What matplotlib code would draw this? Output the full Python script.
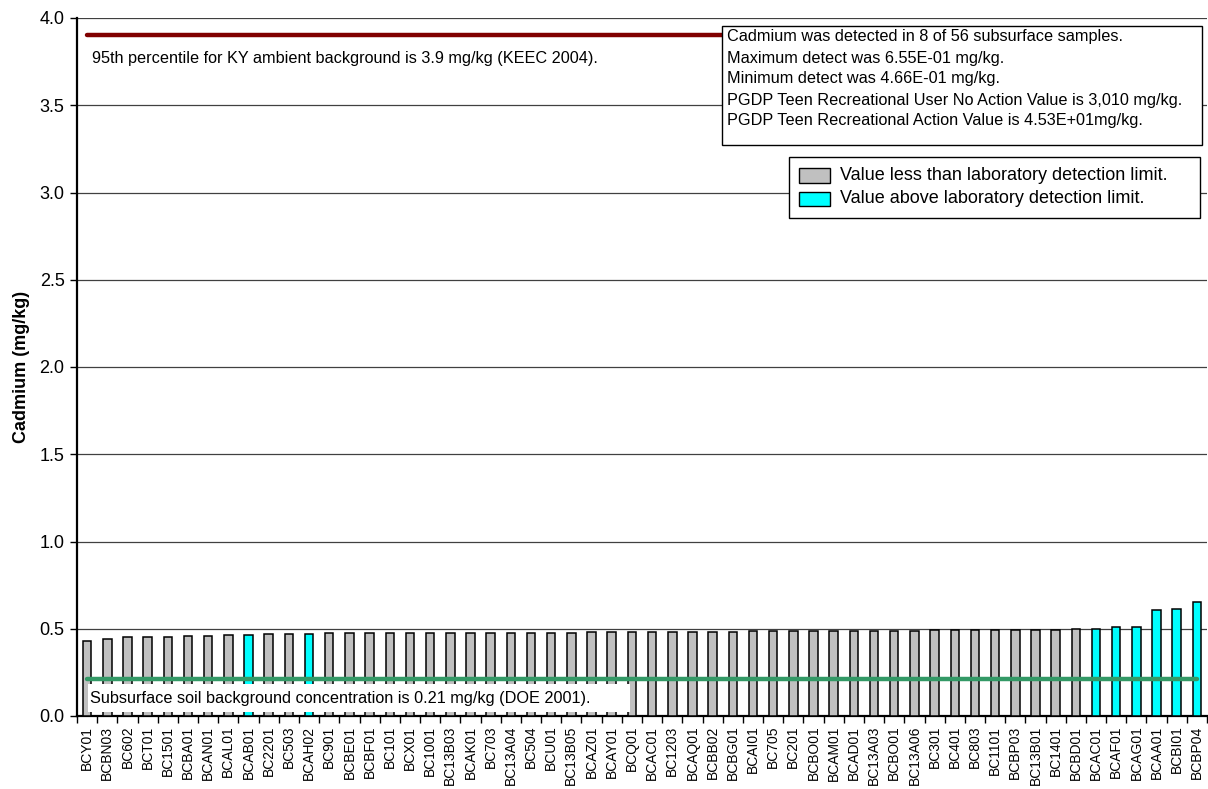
import matplotlib
matplotlib.use("Agg")
import matplotlib.pyplot as plt
from matplotlib.patches import Rectangle
import numpy as np

plt.rcParams['font.family'] = ['Liberation Sans', 'DejaVu Sans']

stations = ["BCY01", "BCBN03", "BC602", "BCT01", "BC1501", "BCBA01", "BCAN01", "BCAL01",
            "BCAB01", "BC2201", "BC503", "BCAH02", "BC901", "BCBE01", "BCBF01", "BC101",
            "BCX01", "BC1001", "BC13B03", "BCAK01", "BC703", "BC13A04", "BC504", "BCU01",
            "BC13B05", "BCAZ01", "BCAY01", "BCQ01", "BCAC01", "BC1203", "BCAQ01", "BCBB02",
            "BCBG01", "BCAI01", "BC705", "BC201", "BCBO01", "BCAM01", "BCAD01", "BC13A03",
            "BCBO01", "BC13A06", "BC301", "BC401", "BC803", "BC1101", "BCBP03", "BC13B01",
            "BC1401", "BCBD01", "BCAC01", "BCAF01", "BCAG01", "BCAA01", "BCBI01", "BCBP04"]
cadmium = [0.428, 0.441, 0.451, 0.455, 0.455, 0.459, 0.459, 0.466,
           0.466, 0.470, 0.471, 0.471, 0.473, 0.474, 0.474, 0.475,
           0.475, 0.475, 0.476, 0.476, 0.476, 0.477, 0.477, 0.478,
           0.478, 0.479, 0.480, 0.480, 0.481, 0.481, 0.482, 0.484,
           0.484, 0.485, 0.485, 0.485, 0.485, 0.486, 0.487, 0.487,
           0.488, 0.488, 0.490, 0.490, 0.492, 0.493, 0.493, 0.495,
           0.495, 0.497, 0.498, 0.510, 0.512, 0.607, 0.614, 0.655]
detected = [0, 0, 0, 0, 0, 0, 0, 0,
            1, 0, 0, 1, 0, 0, 0, 0,
            0, 0, 0, 0, 0, 0, 0, 0,
            0, 0, 0, 0, 0, 0, 0, 0,
            0, 0, 0, 0, 0, 0, 0, 0,
            0, 0, 0, 0, 0, 0, 0, 0,
            0, 0, 1, 1, 1, 1, 1, 1]
ky_background = 3.9
soil_background = 0.21
y_ticks = [0.0, 0.5, 1.0, 1.5, 2.0, 2.5, 3.0, 3.5, 4.0]

info_lines = ["Cadmium was detected in 8 of 56 subsurface samples.",
              "Maximum detect was 6.55E-01 mg/kg.",
              "Minimum detect was 4.66E-01 mg/kg.",
              "PGDP Teen Recreational User No Action Value is 3,010 mg/kg.",
              "PGDP Teen Recreational Action Value is 4.53E+01mg/kg."]
legend_labels = ["Value less than laboratory detection limit.",
                 "Value above laboratory detection limit."]
legend_colors = ['#C0C0C0', '#00FFFF']

W, H = 1208, 789
fig = plt.figure(figsize=(W / 100, H / 100), dpi=100)
ax_l, ax_r, ax_t, ax_b = 77, 1207, 18, 716
ax = fig.add_axes([ax_l / W, 1 - ax_b / H, (ax_r - ax_l) / W, (ax_b - ax_t) / H])

x = np.arange(len(stations))
colors = [legend_colors[1] if d else legend_colors[0] for d in detected]
ax.bar(x, cadmium, width=0.42, color=colors, edgecolor='black', linewidth=1.1, zorder=3)

ax.set_xlim(-0.5, len(stations) - 0.5)
ax.set_ylim(0, 4.0)
ax.set_yticks(y_ticks)
ax.set_yticklabels([f"{v:.1f}" for v in y_ticks], fontsize=13)
ax.yaxis.grid(True, color='#404040', linewidth=0.9, zorder=0)
ax.set_axisbelow(True)

ax.set_xticks(x)
ax.set_xticklabels(stations, rotation=90, fontsize=10)
ax.tick_params(axis='x', length=0, pad=7)
ax.set_xticks(np.arange(-0.5, len(stations), 1.0), minor=True)
ax.tick_params(axis='x', which='minor', length=5, width=1, direction='out')
ax.tick_params(axis='y', length=5, width=1, direction='out', pad=4)

for s in ['top', 'right']:
    ax.spines[s].set_visible(False)
ax.spines['left'].set_linewidth(1.6)
ax.spines['bottom'].set_linewidth(1.6)

ax.set_ylabel("Cadmium (mg/kg)", fontsize=13, fontweight='bold', labelpad=7)

# reference lines
ax.plot([x[0], x[-1]], [ky_background] * 2, color='#800000', linewidth=3.2,
        solid_capstyle='round', zorder=4)
ax.plot([x[0], x[-1]], [soil_background] * 2, color='#339966', linewidth=3.2,
        solid_capstyle='round', zorder=6)

def px2ax(px, py):
    return ((px - ax_l) / (ax_r - ax_l), (ax_b - py) / (ax_b - ax_t))

ax.text(*px2ax(92, 58), "95th percentile for KY ambient background is 3.9 mg/kg (KEEC 2004).",
        transform=ax.transAxes, fontsize=11.7, va='center', ha='left', zorder=7)

# subsurface background label box
bx0, by0 = px2ax(88, 712)
bx1, by1 = px2ax(630, 684)
ax.add_patch(Rectangle((bx0, by0), bx1 - bx0, by1 - by0, transform=ax.transAxes,
                       facecolor='white', edgecolor='none', zorder=5))
ax.text(*px2ax(90, 698), "Subsurface soil background concentration is 0.21 mg/kg (DOE 2001).",
        transform=ax.transAxes, fontsize=11.7, va='center', ha='left', zorder=6)

# info box
ix0, iy0 = px2ax(722, 145)
ix1, iy1 = px2ax(1202, 26)
ax.add_patch(Rectangle((ix0, iy0), ix1 - ix0, iy1 - iy0, transform=ax.transAxes,
                       facecolor='white', edgecolor='black', linewidth=1.0, zorder=8,
                       clip_on=False))
for i, line in enumerate(info_lines):
    ax.text(*px2ax(727, 37 + 21 * i), line, transform=ax.transAxes, fontsize=11.7,
            va='center', ha='left', zorder=9)

# legend (drawn manually to match box geometry)
lx0, ly0 = px2ax(789, 218)
lx1, ly1 = px2ax(1200, 157)
ax.add_patch(Rectangle((lx0, ly0), lx1 - lx0, ly1 - ly0, transform=ax.transAxes,
                       facecolor='white', edgecolor='black', linewidth=1.0, zorder=10))
for i, (lab, col) in enumerate(zip(legend_labels, legend_colors)):
    cy = 175.5 + 23 * i
    sx0, sy0 = px2ax(799, cy + 7)
    sx1, sy1 = px2ax(830, cy - 7)
    ax.add_patch(Rectangle((sx0, sy0), sx1 - sx0, sy1 - sy0, transform=ax.transAxes,
                           facecolor=col, edgecolor='black', linewidth=1.0, zorder=11))
    ax.text(*px2ax(840, cy), lab, transform=ax.transAxes, fontsize=13,
            va='center', ha='left', zorder=11)

fig.savefig("out.png", dpi=100)
